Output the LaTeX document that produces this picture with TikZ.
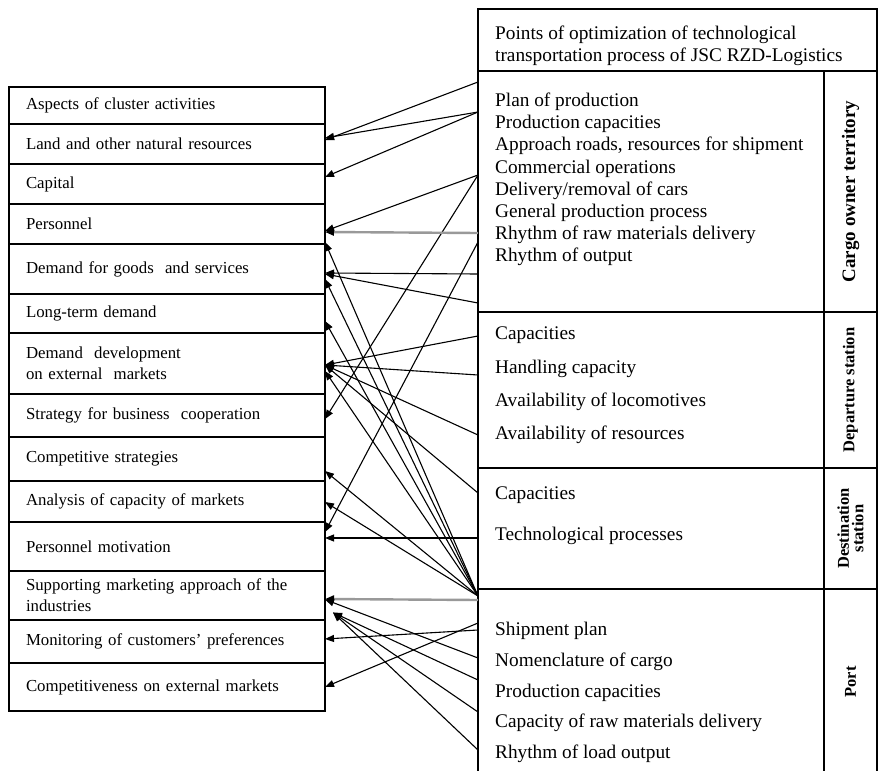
\documentclass[tikz,border=0pt]{standalone}
\usepackage{fontspec}
\setmainfont{Liberation Serif}
\usetikzlibrary{
  positioning,
  arrows.meta,
  calc
}
\tikzset{
  leftbox/.style={
    draw, line width=1.6pt, outer sep=0pt, inner xsep=17pt, inner ysep=0pt,
    text width=282pt, align=left, font=\fontsize{16.8}{21}\selectfont
  },
  secbox/.style={
    draw, line width=1.6pt, outer sep=0pt, inner sep=0pt, minimum width=346pt
  },
  sidebox/.style={
    draw, line width=1.6pt, outer sep=0pt, inner sep=0pt, minimum width=53pt,
    font=\fontsize{16.5}{19}\selectfont\bfseries, align=center
  },
  itemlist/.style={
    anchor=north west, inner sep=0pt, align=left
  },
  arr/.style={
    -{Triangle[length=9pt,width=7pt,color=black]}, line width=1.1pt
  },
  grayarr/.style={
    arr, draw=black!40, line width=2.4pt
  }
}

\begin{document}
\begin{tikzpicture}[x=1pt, y=-1pt]
  \useasboundingbox (0,0) rectangle (879,771);

  % aspects of the cluster
  \node[leftbox, minimum height=37pt, anchor=north west] (aspects) at (9,87) {Aspects of cluster activities};
  \node[leftbox, minimum height=40pt, below=0pt of aspects] (land) {Land and other natural resources};
  \node[leftbox, minimum height=40pt, below=0pt of land] (capital) {Capital};
  \node[leftbox, minimum height=40pt, below=0pt of capital] (personnel) {Personnel};
  \node[leftbox, minimum height=50pt, below=0pt of personnel] (demand) {Demand for goods\ \ and services};
  \node[leftbox, minimum height=39pt, below=0pt of demand] (longterm) {Long-term demand};
  \node[leftbox, minimum height=61pt, below=0pt of longterm] (extdemand) {Demand\ \ development\\on external\ \ markets};
  \node[leftbox, minimum height=43pt, below=0pt of extdemand] (strategy) {Strategy for business\ \ cooperation};
  \node[leftbox, minimum height=44pt, below=0pt of strategy] (competitive) {Competitive strategies};
  \node[leftbox, minimum height=41pt, below=0pt of competitive] (analysis) {Analysis of capacity of markets};
  \node[leftbox, minimum height=49pt, below=0pt of analysis] (motivation) {Personnel motivation};
  \node[leftbox, minimum height=49pt, below=0pt of motivation] (marketing) {Supporting marketing approach of the\\industries};
  \node[leftbox, minimum height=43pt, below=0pt of marketing] (monitoring) {Monitoring of customers' preferences};
  \node[leftbox, minimum height=48pt, below=0pt of monitoring] (external) {Competitiveness on external markets};

  % points of optimization
  \node[draw, line width=1.6pt, outer sep=0pt, inner sep=0pt, minimum width=399pt, minimum height=62pt, anchor=north west] (hdr) at (478,9) {};
  \node[itemlist, font=\fontsize{19.3}{22}\selectfont, below right=17pt and 17pt of hdr.north west] (hdrtext) {Points of optimization of technological\\transportation process of JSC RZD-Logistics};

  \node[secbox, minimum height=241pt, below right=0pt and 0pt of hdr.south west] (cargo) {};
  \node[secbox, minimum height=156pt, below=0pt of cargo] (depart) {};
  \node[secbox, minimum height=121pt, below=0pt of depart] (dest) {};
  \node[secbox, minimum height=186pt, below=0pt of dest] (port) {};

  \node[sidebox, minimum height=241pt, right=0pt of cargo] (cargolbl) {\rotatebox{90}{\fontsize{19}{22}\selectfont Cargo owner territory}};
  \node[sidebox, minimum height=156pt, right=0pt of depart] (departlbl) {\rotatebox{90}{Departure station}};
  \node[sidebox, minimum height=121pt, right=0pt of dest] (destlbl) {\rotatebox{90}{\shortstack{Destination\\station}}};
  \node[sidebox, minimum height=186pt, right=0pt of port] (portlbl) {\rotatebox{90}{Port}};

  \node[itemlist, font=\fontsize{19.3}{22.1}\selectfont, below right=22pt and 17pt of cargo.north west] (cargoitems) {Plan of production\\Production capacities\\Approach roads, resources for shipment\\Commercial operations\\Delivery/removal of cars\\General production process\\Rhythm of raw materials delivery\\Rhythm of output};
  \node[itemlist, font=\fontsize{19.3}{33.3}\selectfont, below right=15pt and 17pt of depart.north west] (departitems) {Capacities\\Handling capacity\\Availability of locomotives\\Availability of resources};
  \node[itemlist, font=\fontsize{19.3}{40.5}\selectfont, below right=19pt and 17pt of dest.north west] (destitems) {Capacities\\Technological processes};
  \node[itemlist, font=\fontsize{19.3}{30.8}\selectfont, below right=33pt and 17pt of port.north west] (portitems) {Shipment plan\\Nomenclature of cargo\\Production capacities\\Capacity of raw materials delivery\\Rhythm of load output};

  % start points on the left edge of the block
  \foreach \n/\y in {a/82, b/112, c/175, d/233, e/242, f/274, g/303, h/336, i/375, j/435,
                     k/493, l/538, m/596, n/600, o/623, p/630, q/658, r/680, s/712, t/750}
    \coordinate (src\n) at (478,\y);

  \draw[arr] (srca) -- ([yshift=4pt]land.east);
  \draw[arr] (srcb) -- ([yshift=6pt]land.east);
  \draw[arr] (srcb) -- ([yshift=7pt]capital.east);
  \draw[arr] (srcc) -- ([yshift=-7pt]personnel.east);
  \draw[arr] (srcc) -- ([yshift=-3.5pt]strategy.east);
  \draw[grayarr] (srcd) -- ([yshift=-8pt]personnel.east);
  \draw[arr] (srce) -- ([yshift=14.5pt]motivation.east);
  \draw[arr] (srcf) -- ([yshift=-4pt]demand.east);
  \draw[arr] (srcg) -- ([yshift=-5pt]demand.east);
  \foreach \s in {h,i,j,k}
    \draw[arr] (src\s) -- ([yshift=-1.5pt]extdemand.east);
  \draw[arr] (srcl) -- ([yshift=8.5pt]motivation.east);

  \draw[arr] (srcm) -- ([yshift=-18pt]personnel.east);
  \draw[arr] (srcm) -- ([yshift=-10pt]demand.east);
  \draw[arr] (srcm) -- ([yshift=-7.5pt]longterm.east);
  \draw[arr] (srcm) -- ([yshift=-7.5pt]extdemand.east);
  \draw[arr] (srcm) -- ([yshift=-12pt]competitive.east);
  \draw[arr] (srcm) -- ([yshift=-0.5pt]analysis.east);
  \draw[grayarr] (srcn) -- ([yshift=-3.5pt]marketing.east);

  \draw[arr] (srco) -- (external.east);
  \draw[arr] (srcp) -- ([yshift=2.5pt]monitoring.east);
  \draw[arr] (srcq) -- ([yshift=-4pt]marketing.east);
  \foreach \s in {r,s,t}
    \draw[arr] (src\s) -- ([xshift=8pt,yshift=-17pt]marketing.east);

\end{tikzpicture}
\end{document}
